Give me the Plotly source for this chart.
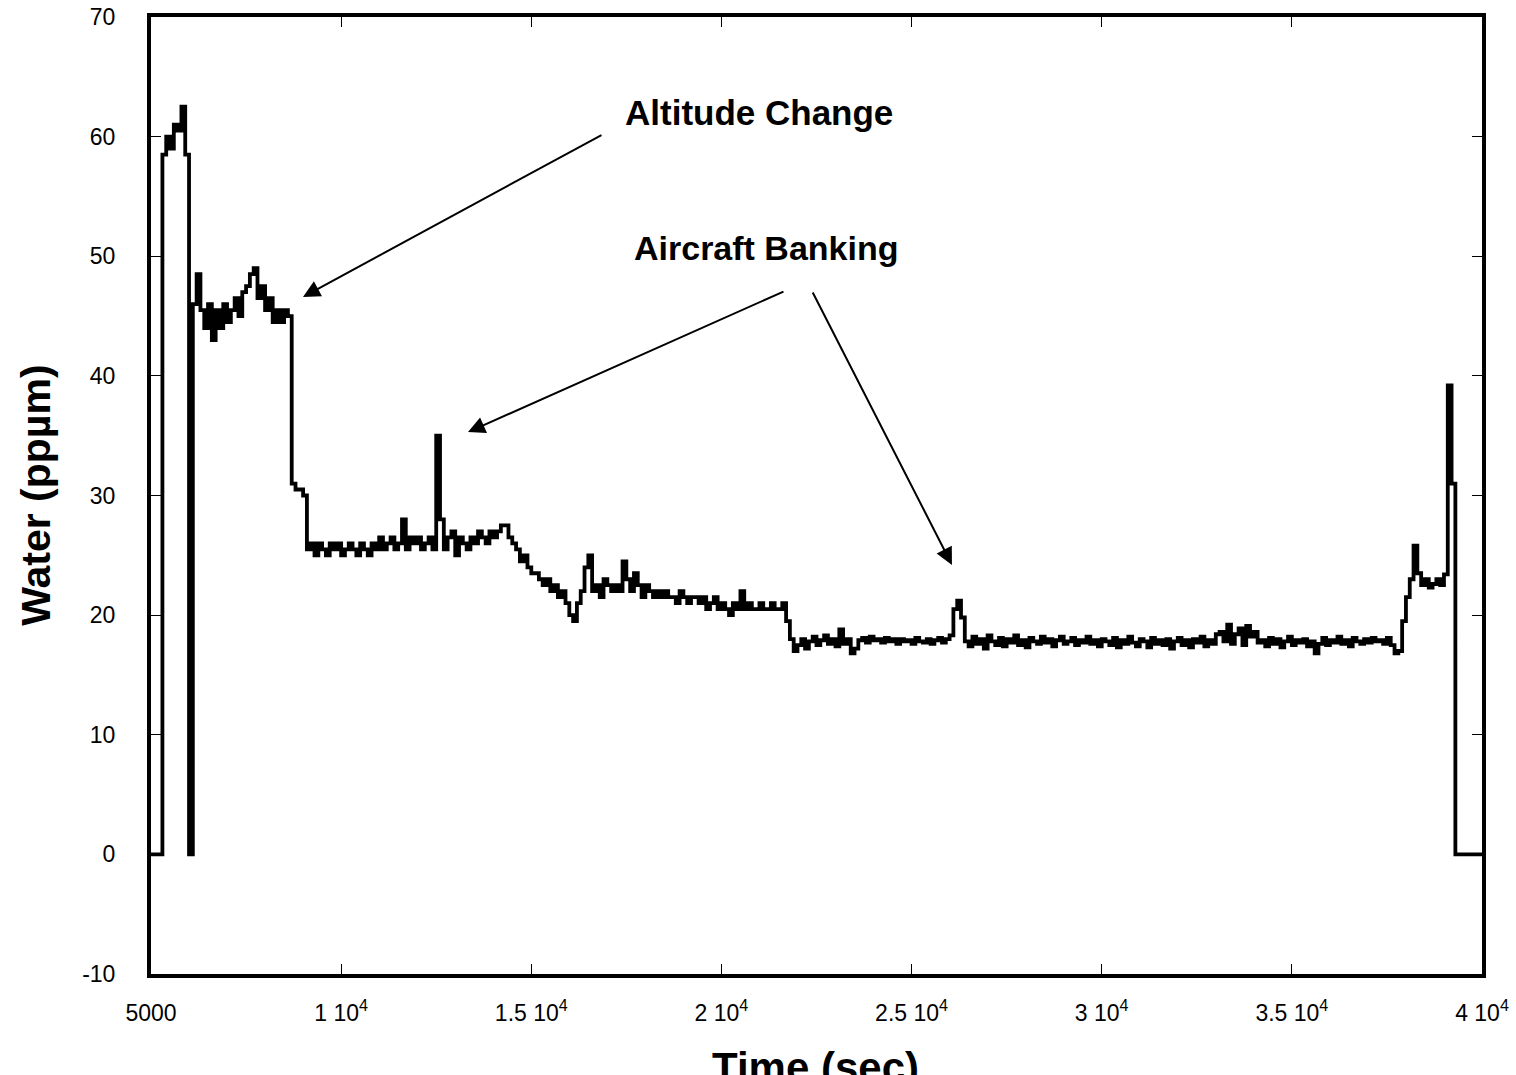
import numpy as np
import plotly.graph_objects as go

# ---------------- data ----------------
t_start = 5000      # s
t_step = 100        # s, sampling interval of the record

# launch / take-off spike and first zero excursion
w_launch = [0, 0, 0, 58.5, 60, 59, 61, 60.5, 62.5, 58.5, 0]
# low-altitude plateau (~45 ppm)
w_plateau45 = [46, 48.5, 45.5, 44, 46, 43, 45.5, 44, 46, 44.5, 45.5, 46.5, 45,
               47, 47.5, 48.5, 49, 46.5, 47.5, 45.5, 46.5, 44.5, 45.5, 44.5, 45.5, 45]
# altitude change step
w_step30 = [31, 30.5, 30.5, 30]
# ~26 ppm cruise with the first banking spike
w_cruise26 = [25.5, 26, 25, 26, 25.5, 25, 26, 25.5, 26, 25,
              25.5, 26, 25.5, 25, 26, 25.5, 25, 26, 25.5, 26.5,
              25.5, 26, 26.5, 25.5, 26, 28, 25.5, 26.5, 26, 26.5,
              25.5, 26, 26.5, 25.5, 35, 28, 25.5, 26.5, 27, 25,
              26.5, 26, 25.5, 26.5, 26, 27, 26.5, 26, 27, 26.5,
              27, 27.5, 27.5, 26.5, 26, 25.5, 24.5, 25, 24, 23.5,
              23.5, 23]
# slow decline ~22 -> 20.5 ppm
w_decline = [22.5, 23, 22, 22.5, 21.5, 22, 21, 20, 19.5, 21,
             22, 24, 25, 22, 22.5, 21.5, 23, 22.5, 22, 22.5,
             22, 24.5, 23, 22, 23.5, 22.5, 21.5, 22.5, 22, 21.5,
             22, 21.5, 22, 21.5, 21.5, 21, 22, 21.5, 21, 21.5,
             21.5, 21, 21.5, 20.5, 21, 21.5, 20.5, 21, 20.5, 20,
             21, 20.5, 22, 20.5, 21, 20.5, 20.5, 21, 20.5, 20.5,
             21, 20.5, 20.5, 21, 19.5, 18, 17]
# ~18 ppm level before the second banking spike
w_level18a = [17.5, 18, 17.2, 17.8, 18.2, 17.5, 17.9, 18.3, 17.6, 18,
              17.4, 18.8, 17.6, 18, 16.8, 17.2, 17.9, 18.1, 17.7, 18.2,
              17.9, 18, 17.7, 18.1, 17.8, 18, 17.6, 18, 17.8, 17.9,
              17.6, 18.1, 17.8, 17.7, 18, 17.6, 17.9, 18.1, 17.7, 18, 18.3]
# second banking spike
w_bank2 = [20.5, 21.2, 19.8, 17.8]
# long ~18 ppm level
w_level18b = [17.4, 18.2, 17.6, 18, 17.2, 18.3, 17.8, 17.5, 18.1, 17.4,
              18, 17.7, 18.3, 17.5, 17.9, 17.3, 18.1, 17.8, 17.6, 18.2,
              17.7, 18, 17.4, 17.9, 18.2, 17.6, 17.8, 18.1, 17.5, 17.9,
              17.7, 18.2, 17.6, 17.9, 17.4, 18, 17.8, 17.5, 18.1, 17.3,
              17.9, 17.6, 18.2, 17.7, 17.4, 18, 17.8, 17.3, 18.1, 17.6,
              17.9, 17.5, 18, 17.2, 17.8, 18.1, 17.5, 17.9, 17.3, 18,
              17.7, 18.2, 17.4, 17.9, 17.6, 18.4]
w_bumps = [18.6, 17.8, 19.2, 17.6, 18.4, 18.9, 17.5, 19.1, 18.2, 18.6, 17.7]
w_level18c = [17.9, 17.4, 18.1, 17.6, 18, 17.3, 17.8, 18.2, 17.5, 17.9,
              17.7, 18, 17.4, 17.8, 16.8, 17.6, 18.1, 17.5, 17.9, 17.7,
              18.2, 17.6, 17.9, 17.4, 18.1, 17.8, 17.6, 18, 17.7, 18.1,
              17.8, 17.9, 17.6, 18.1]
# descent and landing
w_descent = [17.5, 16.8, 17, 19.5, 21.5, 23, 25.8, 23.5, 22.5, 23,
             22.3, 22.6, 23, 22.5, 23.4, 39.2, 31]
w_landed = [0, 0, 0, 0, 0, 0, 0, 0]

water = (w_launch + w_plateau45 + w_step30 + w_cruise26 + w_decline +
         w_level18a + w_bank2 + w_level18b + w_bumps + w_level18c +
         w_descent + w_landed)
assert len(water) == 351, len(water)
time = t_start + t_step * np.arange(len(water))

x_tick_vals = [5000, 10000, 15000, 20000, 25000, 30000, 35000, 40000]
x_tick_text = ["5000", "1 10<sup>4</sup>", "1.5 10<sup>4</sup>", "2 10<sup>4</sup>",
               "2.5 10<sup>4</sup>", "3 10<sup>4</sup>", "3.5 10<sup>4</sup>",
               "4 10<sup>4</sup>"]
y_tick_vals = [-10, 0, 10, 20, 30, 40, 50, 60, 70]
y_tick_text = ["-10", "0", "10", "20", "30", "40", "50", "60", "70"]

# ---------------- figure ----------------
FONT = "Arial, Liberation Sans, Helvetica, sans-serif"

fig = go.Figure()
fig.add_trace(go.Scatter(
    x=time, y=water, mode="lines",
    line=dict(color="black", width=3.8, shape="hv"),
    showlegend=False, hoverinfo="skip"))

axis_common = dict(
    ticks="inside", ticklen=10, tickwidth=1, tickcolor="black",
    showline=True, linewidth=4, linecolor="black", mirror="ticks",
    showgrid=False, zeroline=False, automargin=False,
    tickfont=dict(family=FONT, size=23, color="black"),
)

fig.update_xaxes(range=[5000, 40000], tickvals=x_tick_vals, ticktext=x_tick_text,
                 ticklabelstandoff=15, **axis_common)
fig.update_yaxes(range=[-10, 70], tickvals=y_tick_vals, ticktext=y_tick_text,
                 ticklabelstandoff=27, **axis_common)

arrow_style = dict(xref="x", yref="y", axref="x", ayref="y", text="",
                   showarrow=True, arrowhead=2, arrowsize=1.7, arrowwidth=2,
                   arrowcolor="black", standoff=0, startstandoff=0)

annotations = [
    dict(x=8997, y=46.6, ax=16885, ay=60.2, **arrow_style),
    dict(x=13336, y=35.3, ax=21671, ay=47.1, **arrow_style),
    dict(x=26062, y=24.2, ax=22381, ay=47.1, **arrow_style),
    dict(x=20988, y=62.0, xref="x", yref="y", text="<b>Altitude Change</b>",
         showarrow=False, font=dict(family=FONT, size=35, color="black"),
         xanchor="center", yanchor="middle"),
    dict(x=21172, y=50.7, xref="x", yref="y", text="<b>Aircraft Banking</b>",
         showarrow=False, font=dict(family=FONT, size=34, color="black"),
         xanchor="center", yanchor="middle"),
    dict(x=-0.087, y=0.5, xref="paper", yref="paper", text="<b>Water (ppµm)</b>",
         textangle=-90, showarrow=False,
         font=dict(family=FONT, size=41, color="black"),
         xanchor="center", yanchor="middle"),
    dict(x=0.499, y=-0.071, xref="paper", yref="paper", text="<b>Time (sec)</b>",
         showarrow=False, font=dict(family=FONT, size=42, color="black"),
         xanchor="center", yanchor="top"),
]

fig.update_layout(
    width=1516, height=1075,
    margin=dict(l=151, r=34, t=17, b=101, pad=0, autoexpand=False),
    paper_bgcolor="white", plot_bgcolor="white",
    annotations=annotations,
    font=dict(family=FONT, color="black"),
)

fig.write_html("out.html", config={"displayModeBar": False},
               post_script="document.body.style.margin='0';")
